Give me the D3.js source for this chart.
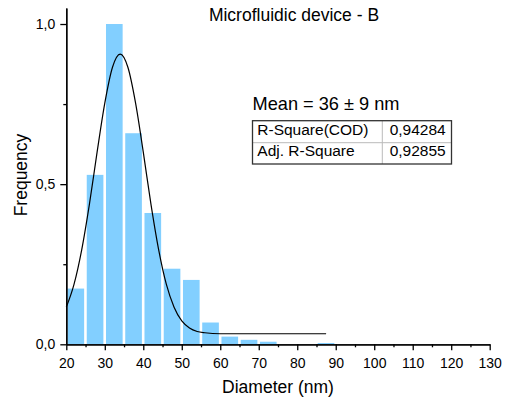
<!DOCTYPE html>
<html>
<head>
<meta charset="utf-8">
<script src="https://cdn.jsdelivr.net/npm/d3@7"></script>
<style>
  body { margin: 0; background: #fff; }
  svg { font-family: Arial, "Liberation Sans", sans-serif; }
</style>
</head>
<body>
<div id="chart"></div>
<script>
// Histogram bins (left edges, bin width 5 nm) and normalised frequencies
const binStarts = [20, 25, 30, 35, 40, 45, 50, 55, 60, 65, 70, 75, 80, 85];
const binWidth = 5;
const frequency = [0.174, 0.529, 1.0, 0.659, 0.41, 0.236, 0.201, 0.068, 0.024, 0.014, 0.008, 0, 0, 0.004];

// Fitted curve
const fitX = [20, 22, 24, 26, 28, 30, 32, 34, 36, 38, 40, 42, 44, 46, 48, 50, 52, 54, 56, 60, 70, 87.5];
const fitY = [0.116, 0.187, 0.295, 0.437, 0.600, 0.753, 0.865, 0.906, 0.865, 0.753, 0.600, 0.437, 0.295, 0.187, 0.116, 0.073, 0.051, 0.040, 0.036, 0.033, 0.033, 0.033];

const xTicks = [20, 30, 40, 50, 60, 70, 80, 90, 100, 110, 120, 130];
const xMinor = [25, 35, 45, 55, 65, 75, 85, 95, 105, 115, 125];
const yTicks = [0, 0.5, 1.0];
const yMinor = [0.25, 0.75];

const title = "Microfluidic device - B";
const meanLabel = "Mean = 36 \u00B1 9 nm";
const statNames = ["R-Square(COD)", "Adj. R-Square"];
const statValues = ["0,94284", "0,92855"];

let width = 507,
    height = 403;

let margin = {
    top: 8,
    bottom: 58.7,
    left: 66.3,
    right: 17.3
};

const comma = d3.formatLocale({decimal: ",", thousands: ".", grouping: [3], currency: ["", ""]});

let svg = d3.select('#chart')
    .append('svg')
    .attr('width', width)
    .attr('height', height);

let xScale = d3.scaleLinear()
    .domain([20, 130])
    .range([margin.left, width - margin.right]);

let yScale = d3.scaleLinear()
    .domain([0, 1.05])
    .range([height - margin.bottom, margin.top]);

// Bars
svg.selectAll("rect.bar")
    .data(binStarts)
    .enter()
    .append("rect")
    .attr("class", "bar")
    .attr("x", d => xScale(d) + 1.2)
    .attr("width", d => xScale(d + binWidth) - xScale(d) - 2.6)
    .attr("y", (d, i) => yScale(frequency[i]))
    .attr("height", (d, i) => yScale(0) - yScale(frequency[i]))
    .attr("fill", "#82CFFF");

// Fit curve
const fitLine = d3.line()
    .x(d => xScale(d[0]))
    .y(d => yScale(d[1]))
    .curve(d3.curveMonotoneX);

svg.append("path")
    .datum(fitX.map((x, i) => [x, fitY[i]]))
    .attr("d", fitLine)
    .attr("fill", "none")
    .attr("stroke", "#000")
    .attr("stroke-width", 1.2);

// Axes
svg.append("g")
    .attr("transform", `translate(0,${height - margin.bottom})`)
    .call(d3.axisBottom(xScale).tickValues(xTicks).tickSize(6).tickSizeOuter(0).tickPadding(8).tickFormat(d3.format("d")));

svg.append("g")
    .attr("transform", `translate(0,${height - margin.bottom})`)
    .call(d3.axisBottom(xScale).tickValues(xMinor).tickSize(3).tickSizeOuter(0).tickFormat(""));

svg.append("g")
    .attr("transform", `translate(${margin.left},0)`)
    .call(d3.axisLeft(yScale).tickValues(yTicks).tickSize(6).tickSizeOuter(0).tickPadding(5).tickFormat(comma.format(".1f")));

svg.append("g")
    .attr("transform", `translate(${margin.left},0)`)
    .call(d3.axisLeft(yScale).tickValues(yMinor).tickSize(3).tickSizeOuter(0).tickFormat(""));

svg.selectAll(".domain, .tick line")
    .attr("stroke", "#000")
    .attr("stroke-width", 1.3);

svg.selectAll(".tick text")
    .attr("fill", "#000")
    .style("font-size", "14px")
    .style("font-family", "Arial, 'Liberation Sans', sans-serif");

// Axis titles
svg.append("text")
    .attr("x", (margin.left + width - margin.right) / 2)
    .attr("y", 392.5)
    .attr("text-anchor", "middle")
    .style("font-size", "17.5px")
    .text("Diameter (nm)");

svg.append("text")
    .attr("transform", "rotate(-90)")
    .attr("x", -175)
    .attr("y", 27)
    .attr("text-anchor", "middle")
    .style("font-size", "17.5px")
    .text("Frequency");

// Title and annotation
svg.append("text")
    .attr("x", 294)
    .attr("y", 21)
    .attr("text-anchor", "middle")
    .style("font-size", "17.5px")
    .text(title);

svg.append("text")
    .attr("x", 252.5)
    .attr("y", 109.5)
    .style("font-size", "18.2px")
    .text(meanLabel);

// Statistics table
const table = svg.append("g");
const tLeft = 252.5, tRight = 451.5, tTop = 120.7, tMid = 142.7, tBottom = 164, tCol = 382.3;

table.append("line")
    .attr("x1", tLeft).attr("x2", tRight)
    .attr("y1", tMid).attr("y2", tMid)
    .attr("stroke", "#bbb");

table.append("line")
    .attr("x1", tCol).attr("x2", tCol)
    .attr("y1", tTop).attr("y2", tBottom)
    .attr("stroke", "#bbb");

table.append("rect")
    .attr("x", tLeft).attr("y", tTop)
    .attr("width", tRight - tLeft).attr("height", tBottom - tTop)
    .attr("fill", "none")
    .attr("stroke", "#333")
    .attr("stroke-width", 1.3);

statNames.forEach((name, i) => {
    table.append("text")
        .attr("x", tLeft + 4.8)
        .attr("y", 135 + i * 20.5)
        .style("font-size", "15.5px")
        .text(name);
    table.append("text")
        .attr("x", tRight - 5.8)
        .attr("y", 135 + i * 20.5)
        .attr("text-anchor", "end")
        .style("font-size", "15.5px")
        .text(statValues[i]);
});
</script>
</body>
</html>
